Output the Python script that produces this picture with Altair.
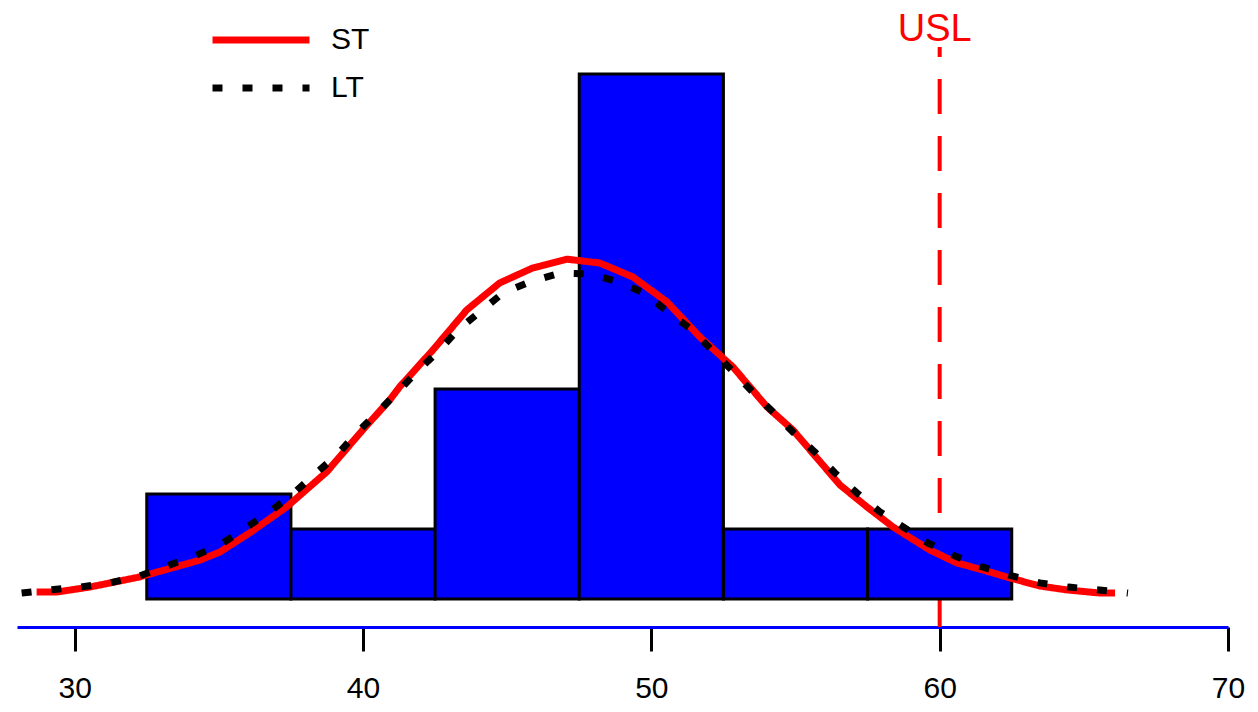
import altair as alt
import pandas as pd

# Histogram (counts per bin)
bin_start = [32.5, 37.5, 42.5, 47.5, 52.5, 57.5]
bin_end = [37.5, 42.5, 47.5, 52.5, 57.5, 62.5]
counts = [3, 2, 6, 15, 2, 2]

# Short-term fitted curve
st_x = [28.68, 29.38, 30.52, 32.25, 34.34, 35.03, 36.07, 37.35, 38.74, 39.99,
        40.93, 41.27, 42.42, 43.60, 44.74, 45.89, 47.07, 48.21, 49.36, 50.54,
        51.68, 52.83, 54.01, 54.91, 56.54, 57.48, 58.38, 59.66, 60.60, 61.50,
        62.44, 63.48, 64.41, 65.56, 66.08]
st_y = [0.20, 0.20, 0.34, 0.63, 1.11, 1.34, 1.89, 2.63, 3.63, 4.83,
        5.69, 6.06, 7.11, 8.26, 9.03, 9.46, 9.71, 9.60, 9.20, 8.49,
        7.49, 6.63, 5.49, 4.83, 3.26, 2.63, 2.06, 1.40, 1.03, 0.83,
        0.60, 0.37, 0.26, 0.17, 0.17]

# Long-term fitted curve
lt_x = [28.16, 29.13, 30.17, 31.21, 32.15, 33.19, 34.16, 35.03, 35.93, 36.77,
        37.56, 38.29, 39.09, 39.78, 40.48, 41.27, 41.86, 42.59, 43.29, 44.05,
        44.85, 45.78, 46.83, 47.87, 48.84, 49.77, 50.57, 51.41, 52.10, 52.79,
        53.52, 54.22, 54.91, 55.67, 56.37, 57.13, 57.93, 58.79, 59.59, 60.53,
        61.50, 62.51, 63.48, 64.48, 65.53, 66.53]
lt_y = [0.17, 0.26, 0.34, 0.46, 0.63, 0.94, 1.23, 1.54, 2.03, 2.49,
        3.00, 3.54, 4.11, 4.74, 5.31, 5.97, 6.49, 7.06, 7.69, 8.20,
        8.74, 9.06, 9.31, 9.29, 9.06, 8.74, 8.20, 7.69, 7.11, 6.54,
        5.91, 5.34, 4.77, 4.20, 3.60, 3.03, 2.49, 2.03, 1.60, 1.23,
        0.91, 0.66, 0.46, 0.34, 0.26, 0.17]

usl = 60
usl_top = 15.77
x_ticks = [30, 40, 50, 60, 70]
x_domain = [28, 70]
y_domain = [-0.8, 16.886]
series = ["ST", "LT"]

FONT = "Liberation Sans"

bars_df = pd.DataFrame({"start": bin_start, "end": bin_end, "count": counts})
st_df = pd.DataFrame({"x": st_x, "y": st_y, "series": "ST"})
lt_df = pd.DataFrame({"x": lt_x, "y": lt_y, "series": "LT"})
usl_df = pd.DataFrame({"x": [usl], "ybot": [y_domain[0]], "ytop": [usl_top], "label": ["USL"]})

xscale = alt.Scale(domain=x_domain, nice=False, zero=False)
yscale = alt.Scale(domain=y_domain, nice=False, zero=False)

xaxis = alt.Axis(values=x_ticks, title=None, grid=False, domainColor="#0000FF",
                 domainWidth=3, tickColor="black", tickWidth=3, tickSize=24,
                 labelFontSize=30, labelFont=FONT, labelColor="black",
                 labelPadding=22, format="d", labelFlush=False)

color_scale = alt.Scale(domain=series, range=["#FF0000", "#000000"])
dash_scale = alt.Scale(domain=series, range=[[1, 0], [10, 20]])
legend = alt.Legend(title=None, orient="none", legendX=192, legendY=8,
                    symbolType="stroke", symbolSize=9409, symbolStrokeWidth=7,
                    labelFontSize=30, labelFont=FONT, labelColor="black",
                    labelOffset=18, rowPadding=0, clipHeight=48, padding=0)

rule = alt.Chart(usl_df).mark_rule(color="#FF0000", strokeWidth=4, strokeDash=[35, 22]).encode(
    x=alt.X("x:Q", scale=xscale, axis=xaxis),
    y=alt.Y("ybot:Q", scale=yscale, axis=None),
    y2="ytop:Q",
)

bars = alt.Chart(bars_df).mark_rect(color="#0000FF", stroke="black", strokeWidth=3).encode(
    x=alt.X("start:Q", scale=xscale, axis=xaxis),
    x2="end:Q",
    y=alt.Y("count:Q", scale=yscale, axis=None),
    y2=alt.datum(0),
)

def curve(df):
    return alt.Chart(df).mark_line(strokeWidth=7, strokeCap="butt", strokeJoin="round").encode(
        x=alt.X("x:Q", scale=xscale, axis=xaxis),
        y=alt.Y("y:Q", scale=yscale, axis=None),
        color=alt.Color("series:N", scale=color_scale, legend=legend),
        strokeDash=alt.StrokeDash("series:N", scale=dash_scale, legend=legend),
        order=alt.Order("x:Q"),
    )

label = alt.Chart(usl_df).mark_text(color="#FF0000", fontSize=38, font=FONT,
                                    baseline="alphabetic", align="center", dx=-5).encode(
    x=alt.X("x:Q", scale=xscale, axis=xaxis),
    y=alt.value(33),
    text="label:N",
)

chart = alt.layer(rule, bars, curve(st_df), curve(lt_df), label).properties(
    width=1211, height=619,
    autosize=alt.AutoSizeParams(type="none"),
    padding={"left": 9, "top": 0, "right": 22, "bottom": 80},
    background="white",
).configure_view(stroke=None)

chart.save("out.html", embed_options={"renderer": "svg", "actions": False})
